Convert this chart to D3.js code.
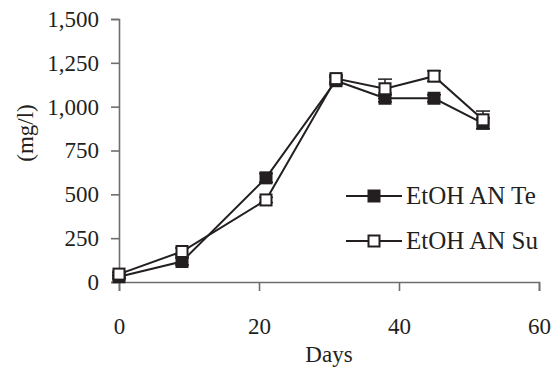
<!DOCTYPE html>
<html>
<head>
<meta charset="utf-8">
<script src="https://cdn.jsdelivr.net/npm/d3@7"></script>
<style>
  body { margin: 0; background: #fff; }
  svg text { font-family: "Liberation Serif", "DejaVu Serif", serif; fill: #231f20; }
</style>
</head>
<body>
<div id="chart"></div>
<script>
// data
const days = [0, 9, 21, 31, 38, 45, 52];
const teValues = [30, 117, 594, 1148, 1048, 1048, 905];
const teErrors = [10, 20, 25, 20, 20, 20, 30];
const suValues = [45, 174, 468, 1160, 1102, 1174, 925];
const suErrors = [10, 20, 15, 20, 55, 30, 50];
const xTicks = [0, 20, 40, 60];
const yTicks = [0, 250, 500, 750, 1000, 1250, 1500];
const seriesNames = ['EtOH AN Te', 'EtOH AN Su'];

const width = 555, height = 369;
const svg = d3.select('#chart').append('svg')
  .attr('width', width)
  .attr('height', height);

const x = d3.scaleLinear().domain([0, 60]).range([119, 539]);
const y = d3.scaleLinear().domain([0, 1500]).range([282, 19]);

const axisColor = '#6d6e71';
const fontSize = 23;

// axes
const xAxis = svg.append('g')
  .attr('transform', `translate(0,${y(0)})`)
  .call(d3.axisBottom(x).tickValues(xTicks).tickSize(9).tickPadding(27).tickFormat(d3.format('d')));
xAxis.select('.domain').attr('stroke', axisColor).attr('stroke-width', 1.6);
xAxis.selectAll('.tick line').attr('stroke', axisColor).attr('stroke-width', 1.6);
xAxis.selectAll('text').attr('font-size', fontSize).attr('fill', '#231f20')
  .attr('font-family', '"Liberation Serif", serif');

const yAxis = svg.append('g')
  .attr('transform', `translate(${x(0)},0)`)
  .call(d3.axisLeft(y).tickValues(yTicks).tickSize(8).tickPadding(12).tickFormat(d3.format(',')));
yAxis.select('.domain').attr('stroke', axisColor).attr('stroke-width', 1.6);
yAxis.selectAll('.tick line').attr('stroke', axisColor).attr('stroke-width', 1.6);
yAxis.selectAll('text').attr('font-size', fontSize).attr('fill', '#231f20')
  .attr('font-family', '"Liberation Serif", serif');

// axis titles
svg.append('text')
  .attr('x', x(30))
  .attr('y', 362)
  .attr('text-anchor', 'middle')
  .attr('font-size', fontSize)
  .text('Days');

svg.append('text')
  .attr('transform', `translate(33,133) rotate(-90)`)
  .attr('text-anchor', 'middle')
  .attr('font-size', fontSize)
  .text('(mg/l)');

const series = [
  { name: seriesNames[0], values: teValues, errors: teErrors, fill: '#231f20' },
  { name: seriesNames[1], values: suValues, errors: suErrors, fill: '#fff' }
];

const line = d3.line()
  .x(d => x(d[0]))
  .y(d => y(d[1]));

const size = 11;

series.forEach(s => {
  const pts = days.map((d, i) => [d, s.values[i], s.errors[i]]);
  const g = svg.append('g');

  // error bars
  const eb = g.selectAll('.eb').data(pts).enter().append('g');
  eb.append('line')
    .attr('x1', d => x(d[0])).attr('x2', d => x(d[0]))
    .attr('y1', d => y(d[1] - d[2])).attr('y2', d => y(d[1] + d[2]))
    .attr('stroke', '#231f20').attr('stroke-width', 1.5);
  eb.append('line')
    .attr('x1', d => x(d[0]) - 7).attr('x2', d => x(d[0]) + 7)
    .attr('y1', d => y(d[1] + d[2])).attr('y2', d => y(d[1] + d[2]))
    .attr('stroke', '#231f20').attr('stroke-width', 1.5);
  eb.append('line')
    .attr('x1', d => x(d[0]) - 7).attr('x2', d => x(d[0]) + 7)
    .attr('y1', d => y(d[1] - d[2])).attr('y2', d => y(d[1] - d[2]))
    .attr('stroke', '#231f20').attr('stroke-width', 1.5);

  g.append('path')
    .datum(pts)
    .attr('fill', 'none')
    .attr('stroke', '#231f20')
    .attr('stroke-width', 2)
    .attr('d', line);

  s.group = g;
  s.pts = pts;
});

// markers drawn after both lines (Su on top)
series.forEach(s => {
  s.group.selectAll('.mk').data(s.pts).enter().append('rect')
    .attr('x', d => x(d[0]) - size / 2)
    .attr('y', d => y(d[1]) - size / 2)
    .attr('width', size).attr('height', size)
    .attr('fill', s.fill)
    .attr('stroke', '#231f20')
    .attr('stroke-width', 2);
});

// legend
const legend = svg.append('g');
series.forEach((s, i) => {
  const ly = 196 + i * 45;
  legend.append('line')
    .attr('x1', 346).attr('x2', 402)
    .attr('y1', ly).attr('y2', ly)
    .attr('stroke', '#231f20').attr('stroke-width', 2);
  legend.append('rect')
    .attr('x', 374 - size / 2).attr('y', ly - size / 2)
    .attr('width', size).attr('height', size)
    .attr('fill', s.fill).attr('stroke', '#231f20').attr('stroke-width', 2);
  legend.append('text')
    .attr('x', 406).attr('y', ly + 8)
    .attr('font-size', 25)
    .text(s.name);
});
</script>
</body>
</html>
